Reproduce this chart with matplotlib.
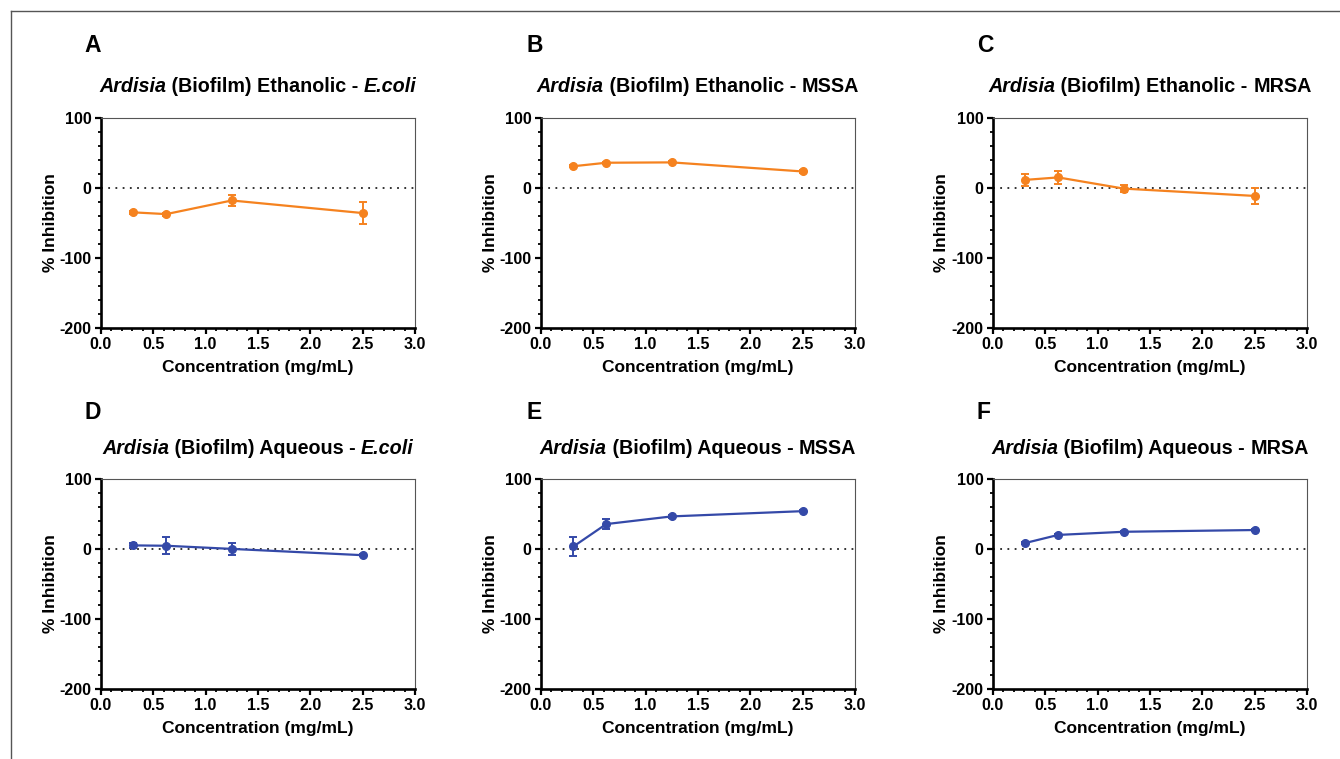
import matplotlib
matplotlib.use("Agg")
import matplotlib.pyplot as plt
from matplotlib.ticker import MultipleLocator, FuncFormatter
from matplotlib.lines import Line2D

plt.rcParams['font.family'] = ['Liberation Sans', 'DejaVu Sans']
plt.rcParams['font.weight'] = 'bold'
plt.rcParams['axes.unicode_minus'] = False

# ---- data ----
conc = [0.3125, 0.625, 1.25, 2.5]

eth_ecoli_mean = [-35, -37.5, -18, -36]
eth_ecoli_err = [2, 2, 8, 16]
eth_mssa_mean = [31, 36, 36.5, 23.5]
eth_mssa_err = [1.5, 1.5, 1.5, 1.5]
eth_mrsa_mean = [11.5, 15, -1, -11.5]
eth_mrsa_err = [9, 9, 5, 12]

aq_ecoli_mean = [5, 4.5, 0, -9]
aq_ecoli_err = [4, 12, 9, 1.5]
aq_mssa_mean = [3.5, 35.5, 46.5, 54]
aq_mssa_err = [13.5, 7, 2, 1.5]
aq_mrsa_mean = [8.5, 20, 24.5, 27]
aq_mrsa_err = [1.5, 1.5, 1.5, 1.5]

panel_letters = ['A', 'B', 'C', 'D', 'E', 'F']
extracts = ['Ethanolic', 'Ethanolic', 'Ethanolic', 'Aqueous', 'Aqueous', 'Aqueous']
organisms = ['E.coli', 'MSSA', 'MRSA', 'E.coli', 'MSSA', 'MRSA']
organism_italic = [True, False, False, True, False, False]

means = [eth_ecoli_mean, eth_mssa_mean, eth_mrsa_mean,
         aq_ecoli_mean, aq_mssa_mean, aq_mrsa_mean]
errs = [eth_ecoli_err, eth_mssa_err, eth_mrsa_err,
        aq_ecoli_err, aq_mssa_err, aq_mrsa_err]

orange = '#F5821F'
blue = '#3449A8'
colors = [orange] * 3 + [blue] * 3

xlabel = 'Concentration (mg/mL)'
ylabel = '% Inhibition'

W, H = 1340, 759
fig = plt.figure(figsize=(W / 100, H / 100), dpi=100)
renderer = fig.canvas.get_renderer()


def text_width(s, size, style):
    a = fig.text(0, 0, '|' + s + '|', fontsize=size, fontweight='bold', fontstyle=style)
    b = fig.text(0, 0, '||', fontsize=size, fontweight='bold', fontstyle=style)
    w = a.get_window_extent(renderer).width - b.get_window_extent(renderer).width
    a.remove()
    b.remove()
    return w


def rich_title(parts, cx, cy, size):
    widths = [text_width(s, size, st) for s, st in parts]
    x = cx - sum(widths) / 2
    for (s, st), w in zip(parts, widths):
        fig.text(x / W, 1 - cy / H, s, fontsize=size, fontweight='bold', fontstyle=st,
                 ha='left', va='center')
        x += w


# figure border (top and left lines)
fig.add_artist(Line2D([11 / W, 1], [1 - 10.5 / H, 1 - 10.5 / H], transform=fig.transFigure,
                      color='#555555', lw=1))
fig.add_artist(Line2D([11 / W, 11 / W], [0, 1 - 10.5 / H], transform=fig.transFigure,
                      color='#555555', lw=1))

lefts = [100.7, 540.7, 992.7]
tops = [118, 479]
aw, ah = 314.5, 209.7
letter_x = [84, 526, 977]
letter_y = [46, 412]
title_y = [86, 448]

for i in range(6):
    r, c = divmod(i, 3)
    l = lefts[c]
    t = tops[r]
    ax = fig.add_axes([l / W, 1 - (t + ah) / H, aw / W, ah / H])
    ax.set_xlim(0, 3.0)
    ax.set_ylim(-200, 100)
    ax.axhline(0, color='#222222', lw=1.3, ls=(0, (1, 3)), zorder=1)
    ax.errorbar(conc, means[i], yerr=errs[i], color=colors[i], lw=1.6,
                marker='o', ms=5.5, capsize=2.8, capthick=1.4, elinewidth=1.4, zorder=3)
    ax.xaxis.set_major_locator(MultipleLocator(0.5))
    ax.xaxis.set_minor_locator(MultipleLocator(0.1))
    ax.yaxis.set_major_locator(MultipleLocator(100))
    ax.yaxis.set_minor_locator(MultipleLocator(20))
    ax.xaxis.set_major_formatter(FuncFormatter(lambda v, p: f"{v:.1f}"))
    ax.yaxis.set_major_formatter(FuncFormatter(lambda v, p: f"{int(round(v))}"))
    ax.tick_params(axis='both', which='major', direction='out', length=4.5, width=1.6,
                   labelsize=11.5, pad=2)
    ax.tick_params(axis='both', which='minor', direction='out', length=2.5, width=1.3)
    for s in ['left', 'bottom']:
        ax.spines[s].set_linewidth(1.9)
        ax.spines[s].set_color('black')
    for s in ['top', 'right']:
        ax.spines[s].set_linewidth(0.8)
        ax.spines[s].set_color('#555555')
    for lab in ax.get_xticklabels() + ax.get_yticklabels():
        lab.set_fontweight('bold')
    ax.set_xlabel(xlabel, fontsize=12.5, fontweight='bold', va='center')
    ax.set_ylabel(ylabel, fontsize=12.5, fontweight='bold', va='center')
    ax.xaxis.set_label_coords(0.5, -(249 / ah) * 0 - (367 - 327.7) / ah)
    ax.yaxis.set_label_coords(-50.7 / aw, 0.5)
    fig.text(letter_x[c] / W, 1 - letter_y[r] / H, panel_letters[i], fontsize=16.5,
             fontweight='bold', ha='left', va='center')
    parts = [('Ardisia', 'italic'), (' (Biofilm) ' + extracts[i] + ' - ', 'normal'),
             (organisms[i], 'italic' if organism_italic[i] else 'normal')]
    rich_title(parts, l + aw / 2, title_y[r], 14.2)

fig.savefig('out.png', dpi=100)
